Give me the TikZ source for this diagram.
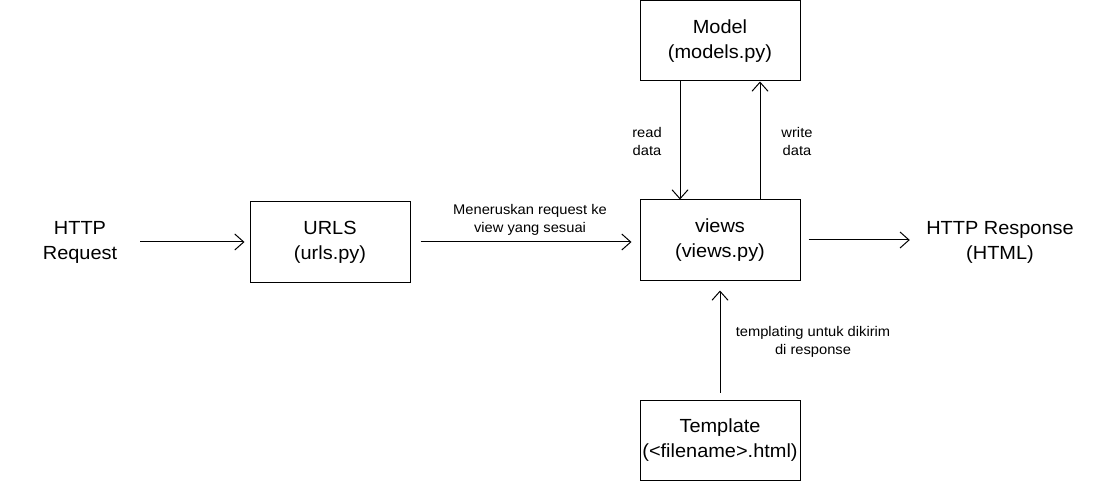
\documentclass[tikz,border=0pt]{standalone}
\usepackage{fontspec}
\setmainfont{Liberation Sans}[FakeStretch=1.05]
\usetikzlibrary{arrows.meta}
\begin{document}
\begin{tikzpicture}[x=1pt,y=-1pt,
  box/.style={draw=black, line width=1pt, minimum width=160pt, minimum height=80pt, inner sep=0pt, align=center, font=\fontsize{19}{25}\selectfont},
  plain/.style={align=center, font=\fontsize{19}{25}\selectfont, inner sep=0pt},
  lbl/.style={align=center, font=\fontsize{14}{18}\selectfont, inner sep=0pt},
  arr/.style={line width=1pt, -{Straight Barb[length=9pt,width=16pt]}}
]
\useasboundingbox (0,0) rectangle (1098,481);
\node[box] (model) at (720,41) {Model\\(models.py)};
\node[box] (views) at (720,240) {views\\(views.py)};
\node[box] (urls) at (330,242) {URLS\\(urls.py)};
\node[box] (tmpl) at (720,440) {Template\\(<filename>.html)};
\node[plain, minimum width=120pt] (req) at (80,242) {HTTP\\Request};
\node[plain, minimum width=180pt] (resp) at (1000,242) {HTTP Response\\(HTML)};

\draw[arr, shorten >=5pt] (req.east) -- (req.east -| urls.west);
\draw[arr, shorten <=10pt, shorten >=8pt] (urls.east) -- (urls.east -| views.west);
\draw[arr] ([xshift=-40pt]model.south) -- ([xshift=-40pt]views.north);
\draw[arr] ([xshift=40pt]views.north) -- ([xshift=40pt]model.south);
\draw[arr, shorten <=8pt] (views.east) -- (views.east -| resp.west);
\draw[arr, shorten <=7pt, shorten >=10pt] (tmpl.north) -- (views.south);

\node[lbl] (lmen) at (530,220) {Meneruskan request ke\\view yang sesuai};
\node[lbl] (lread) at (647,141) {read\\data};
\node[lbl] (lwrite) at (797,141) {write\\data};
\node[lbl] (ltmpl) at (813,342) {templating untuk dikirim\\di response};
\end{tikzpicture}
\end{document}
